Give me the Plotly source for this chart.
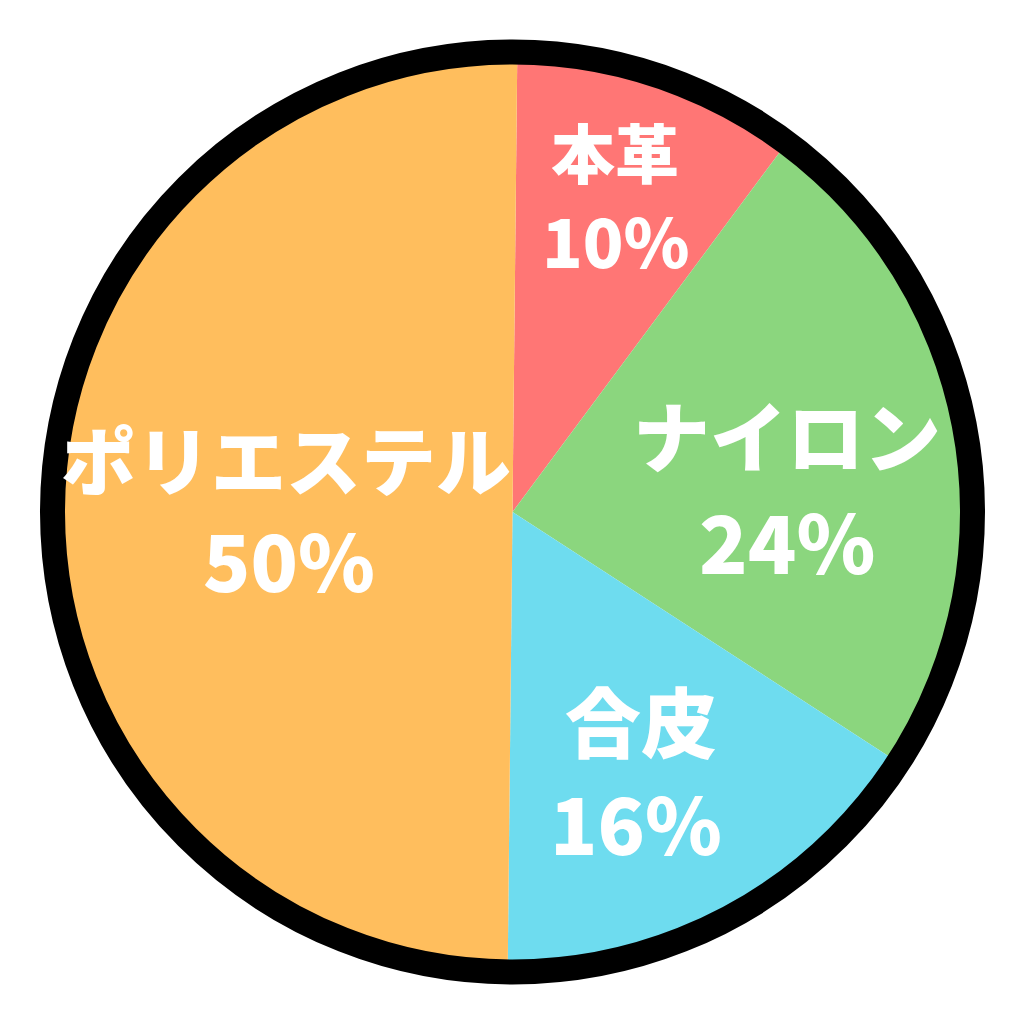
import plotly.graph_objects as go

labels = ["本革", "ナイロン", "合皮", "ポリエステル"]
values = [10, 24, 16, 50]
colors = ["#FF7675", "#8BD67E", "#6EDCEF", "#FFBE5D"]

# text placement (screen px of the label-line centre and percent-line centre) and sizes
label_xy = [(615, 150), (787, 433), (641, 719), (286, 457)]
pct_xy = [(616, 238), (787, 539), (636, 821), (289, 558)]
label_sizes = [64, 77, 76, 75]
pct_sizes = [67, 80, 78, 78]

OFF = 8          # default body margin of the html page
R = 460          # pie radius in px
CX, CY = 512.5, 512  # circle centre on screen

def px(x):
    return (x - OFF) / 1024

def py(y):
    return 1 - (y - OFF) / 1024

fig = go.Figure(go.Pie(
    labels=labels,
    values=values,
    sort=False,
    direction="clockwise",
    rotation=0.6,
    marker=dict(colors=colors, line=dict(width=0)),
    textinfo="none",
    hoverinfo="skip",
    showlegend=False,
    domain=dict(x=[px(CX - R), px(CX + R)], y=[py(CY + R), py(CY - R)]),
))

fig.add_shape(type="circle", xref="paper", yref="paper",
              x0=px(CX - R), x1=px(CX + R), y0=py(CY + R), y1=py(CY - R),
              line=dict(color="black", width=25))

total = sum(values)
for lab, v, (lx, ly), (qx, qy), ls, qs in zip(labels, values, label_xy, pct_xy, label_sizes, pct_sizes):
    fig.add_annotation(x=px(lx), y=py(ly), xref="paper", yref="paper", text=lab,
                       showarrow=False, xanchor="center", yanchor="middle",
                       font=dict(family="Noto Sans CJK JP", size=ls, color="white", weight=900))
    fig.add_annotation(x=px(qx), y=py(qy), xref="paper", yref="paper",
                       text=f"{round(100 * v / total)}%",
                       showarrow=False, xanchor="center", yanchor="middle",
                       font=dict(family="Noto Sans CJK JP", size=qs, color="white", weight=900))

fig.update_layout(
    width=1024, height=1024,
    margin=dict(l=0, r=0, t=0, b=0),
    paper_bgcolor="white", plot_bgcolor="white",
)

fig.write_html("out.html")
